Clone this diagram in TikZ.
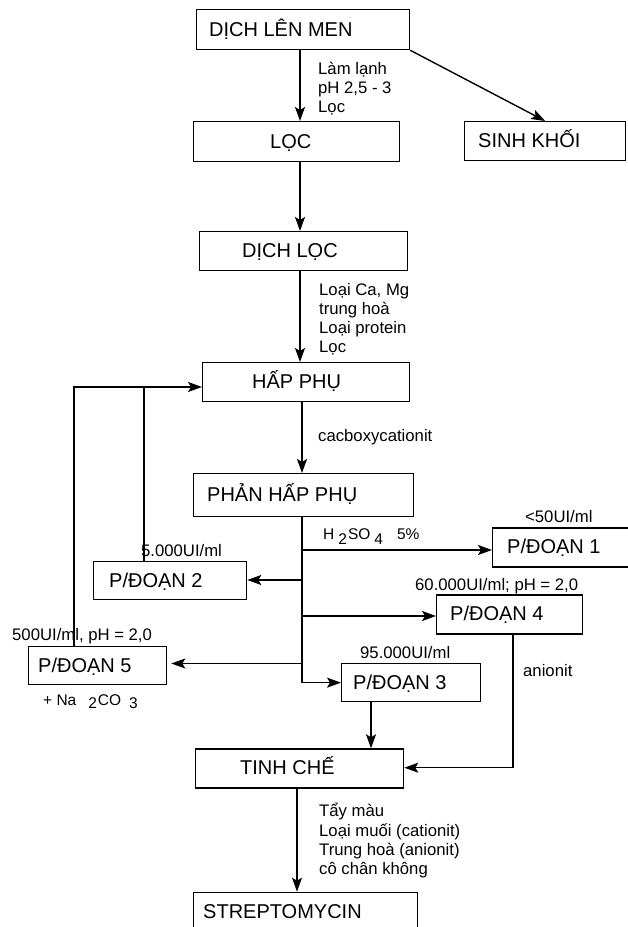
\documentclass[tikz,border=0pt]{standalone}
\usepackage{fontspec}
\setmainfont{Liberation Sans}
\usetikzlibrary{arrows.meta}
\begin{document}
\begin{tikzpicture}[x=1pt,y=-1pt,
  box/.style={draw, line width=1.3pt, inner sep=0pt, anchor=north west},
  bt/.style={anchor=base west, inner sep=0pt, font=\fontsize{20}{24}\selectfont},
  lb/.style={anchor=base west, inner sep=0pt, font=\fontsize{16.7}{19.3}\selectfont},
  sb/.style={anchor=base west, inner sep=0pt, font=\fontsize{15.5}{18}\selectfont},
  ln/.style={line width=1.4pt},
  ar/.style={line width=1.4pt, -{Stealth[length=14pt,width=10pt,inset=3pt]}}]
\useasboundingbox (0,0) rectangle (628,927);
\clip (0,0) rectangle (628,927);
\fill[white] (0,0) rectangle (628,927);

% column / row coordinates
\coordinate (x300) at (300,0);
\coordinate (x302) at (302,0);
\coordinate (x371) at (371,0);
\coordinate (x513) at (513,0);
\coordinate (x297) at (297,0);
\coordinate (x74) at (74,0);
\coordinate (x144) at (144,0);
\coordinate (y387) at (0,387);
\coordinate (y550) at (0,550);
\coordinate (y580) at (0,580);
\coordinate (y616) at (0,616);
\coordinate (y663) at (0,663.5);
\coordinate (y768) at (0,767.7);

% boxes
\node[box, minimum width=213pt, minimum height=40pt] (dlm) at (196,9) {};
\node[bt] (dlmt) at (209,36.5) {DỊCH LÊN MEN};
\node[box, minimum width=206pt, minimum height=40pt] (loc) at (193,121) {};
\node[bt] (loct) at (270,148) {LỌC};
\node[box, minimum width=161pt, minimum height=39pt] (sk) at (464,121) {};
\node[bt] (skt) at (478,147.7) {SINH KHỐI};
\node[box, minimum width=208pt, minimum height=39pt] (dl) at (199,231) {};
\node[bt] (dlt) at (242,257.7) {DỊCH LỌC};
\node[box, minimum width=207pt, minimum height=39pt] (hp) at (202,362) {};
\node[bt] (hpt) at (252,388.7) {HẤP PHỤ};
\node[box, minimum width=220pt, minimum height=43pt] (php) at (193,473) {};
\node[bt] (phpt) at (207,501.7) {PHẢN HẤP PHỤ};
\node[box, minimum width=150pt, minimum height=39pt] (p1) at (492,527.3) {};
\node[bt] (p1t) at (507,553.7) {P/ĐOẠN 1};
\node[box, minimum width=153pt, minimum height=38pt] (p2) at (93,561) {};
\node[bt] (p2t) at (109,587.2) {P/ĐOẠN 2};
\node[box, minimum width=146pt, minimum height=39pt] (p4) at (436,594.3) {};
\node[bt] (p4t) at (450,620.7) {P/ĐOẠN 4};
\node[box, minimum width=138pt, minimum height=38pt] (p5) at (28,646) {};
\node[bt] (p5t) at (38,672.2) {P/ĐOẠN 5};
\node[box, minimum width=139pt, minimum height=38pt] (p3) at (341,663) {};
\node[bt] (p3t) at (353,689.2) {P/ĐOẠN 3};
\node[box, minimum width=208pt, minimum height=39pt] (tc) at (195,748.3) {};
\node[bt] (tct) at (240,774.7) {TINH CHẾ};
\node[box, minimum width=224pt, minimum height=60pt] (st) at (193,891.7) {};
\node[bt] (stt) at (203,918) {STREPTOMYCIN};

% labels
\node[lb] (l1a) at (318,74.3) {Làm lạnh};
\node[lb] (l1b) at (318,93.6) {pH 2,5 - 3};
\node[lb] (l1c) at (318,112.9) {Lọc};
\node[lb] (l2a) at (319,295) {Loại Ca, Mg};
\node[lb] (l2b) at (319,314.3) {trung hoà};
\node[lb] (l2c) at (319,333.6) {Loại protein};
\node[lb] (l2d) at (319,352.9) {Lọc};
\node[lb] (l3) at (318,441) {cacboxycationit};
\node[sb] (l4) at (323,539) {H\hspace{4pt}\raisebox{-5pt}{2}\hspace{1pt}SO\hspace{4pt}\raisebox{-5pt}{4}\hspace{14pt}5\%};
\node[lb] (l5) at (525,522.3) {<50UI/ml};
\node[lb] (l6) at (141,556.7) {5.000UI/ml};
\node[lb] (l7) at (415,590) {60.000UI/ml; pH = 2,0};
\node[lb] (l8) at (12,640.7) {500UI/ml, pH = 2,0};
\node[lb] (l9) at (360,658.3) {95.000UI/ml};
\node[sb] (l10) at (43,705) {+ Na\hspace{12pt}\raisebox{-3pt}{2}\hspace{1pt}CO\hspace{8pt}\raisebox{-3pt}{3}};
\node[lb] (l11) at (523,676.7) {anionit};
\node[lb] (l12a) at (319,816.7) {Tẩy màu};
\node[lb] (l12b) at (319,836) {Loại muối (cationit)};
\node[lb] (l12c) at (319,855.3) {Trung hoà (anionit)};
\node[lb] (l12d) at (319,874.6) {cô chân không};

% connectors
\draw[ar] (dlm.south -| x300) -- (loc.north -| x300);
\draw[ar] (dlm.south east) -- (sk.north);
\draw[ar] (loc.south -| x300) -- (dl.north -| x300);
\draw[ar] (dl.south -| x300) -- (hp.north -| x300);
\draw[ar] (hp.south -| x302) -- (php.north -| x302);
\draw[ar] (php.south -| x302) |- (p3.west);
\draw[ar] (x302 |- y550) -- (p1.west |- y550);
\draw[ar] (x302 |- y580) -- (p2.east |- y580);
\draw[ar] (x302 |- y616) -- (p4.west |- y616);
\draw[ar, shorten >=4pt] (x302 |- y663) -- (p5.east |- y663);
\draw[ar] (p3.south -| x371) -- (tc.north -| x371);
\draw[ar] (p4.south -| x513) |- (tc.east |- y768);
\draw[ar] (tc.south -| x297) -- (st.north -| x297);
\draw[ar] (p5.north -| x74) |- (hp.west |- y387);
\draw[ln] (p2.north -| x144) -- (x144 |- y387);
\end{tikzpicture}
\end{document}
